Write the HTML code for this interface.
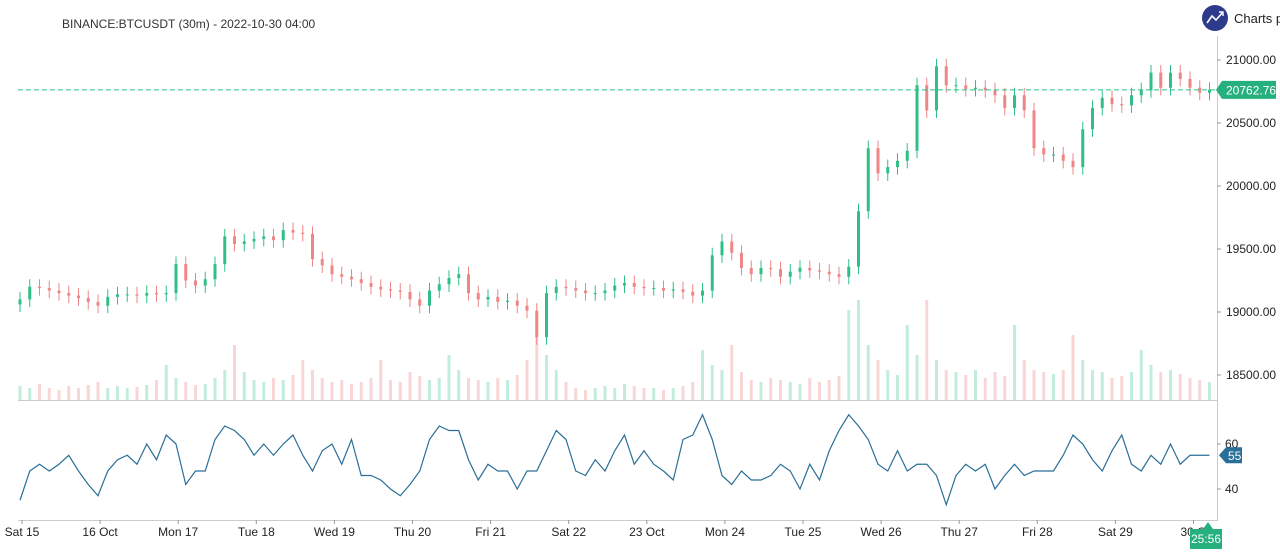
<!DOCTYPE html>
<html><head><meta charset="utf-8"><style>
body{margin:0;background:#fff;font-family:"Liberation Sans",sans-serif}
svg{display:block}
text{font-family:"Liberation Sans",sans-serif}
</style></head><body>
<svg id="chart" width="1280" height="552" xmlns="http://www.w3.org/2000/svg">
<text x="62" y="28" font-size="12" fill="#333">BINANCE:BTCUSDT (30m) - 2022-10-30 04:00</text>
<g>
<circle cx="1215" cy="18" r="13" fill="#2e3a8c"/>
<polyline points="1207,23 1212,16 1216,20 1223,12" fill="none" stroke="#fff" stroke-width="1.6"/>
<polyline points="1219,12 1223,12 1223,16" fill="none" stroke="#fff" stroke-width="1.4"/>
<text x="1234" y="23" font-size="13" fill="#222">Charts p</text>
</g>
<line x1="1217.5" y1="36" x2="1217.5" y2="521" stroke="#ccc"/>
<line x1="18" y1="400.5" x2="1217" y2="400.5" stroke="#ccc"/>
<line x1="18" y1="520.5" x2="1217" y2="520.5" stroke="#ccc"/>
<g id="vol"></g>
<g id="candles"></g>
<g id="yaxis"></g>
<g id="osc"></g>
<g id="xaxis"></g>
</svg>
<script>
const closes=[19100,19200,19190,19170,19150,19130,19110,19080,19050,19120,19140,19140,19130,19150,19140,19150,19380,19250,19210,19260,19380,19600,19540,19560,19580,19600,19570,19650,19630,19620,19420,19370,19300,19280,19260,19230,19200,19180,19170,19160,19100,19050,19170,19220,19270,19300,19150,19100,19120,19080,19090,19050,19010,18800,19150,19200,19190,19170,19150,19150,19170,19210,19230,19200,19190,19190,19170,19180,19160,19130,19170,19450,19560,19470,19350,19300,19350,19340,19280,19320,19350,19330,19320,19300,19280,19360,19800,20300,20100,20150,20200,20280,20800,20600,20950,20800,20800,20770,20780,20760,20720,20620,20720,20600,20300,20250,20250,20200,20150,20450,20620,20700,20650,20640,20720,20760,20900,20780,20900,20850,20780,20740,20763];
const volumes=[14,12,16,12,10,14,12,15,18,12,14,12,13,15,20,35,22,18,15,16,22,30,55,28,20,18,22,20,25,40,30,22,18,20,16,18,22,40,20,18,28,24,20,22,45,30,22,20,18,22,20,25,40,65,45,30,18,12,10,12,14,12,16,14,12,12,10,12,14,18,50,35,30,55,28,20,18,22,20,18,16,22,18,20,24,90,100,55,40,30,25,75,45,100,40,30,28,25,30,22,28,24,75,40,30,28,26,30,65,40,30,28,22,24,28,50,35,28,30,26,22,20,18];
const oscValues=[35,48,51,48,51,55,48,42,37,48,53,55,51,60,53,64,60,42,48,48,62,68,66,62,55,60,55,60,64,55,48,57,60,51,62,46,46,44,40,37,42,48,62,68,66,66,53,44,51,48,48,40,48,48,57,66,62,48,46,53,48,57,64,51,57,51,48,44,62,64,73,62,46,42,48,44,44,46,51,48,40,51,44,57,66,73,68,62,51,48,57,48,51,51,46,33,46,51,48,51,40,46,51,46,48,48,48,55,64,60,53,48,57,64,51,48,55,51,60,51,55,55,55];
const priceTicks=[18500,19000,19500,20000,20500,21000];
const oscTicks=[40,60];
const dayLabels=["Sat 15","16 Oct","Mon 17","Tue 18","Wed 19","Thu 20","Fri 21","Sat 22","23 Oct","Mon 24","Tue 25","Wed 26","Thu 27","Fri 28","Sat 29","30 O"];
const lastPrice=20762.76, lastOsc=55;

const NS="http://www.w3.org/2000/svg";
function mk(tag,attrs,parent){const e=document.createElementNS(NS,tag);for(const k in attrs)e.setAttribute(k,attrs[k]);parent.appendChild(e);return e;}
const xOf=i=>20+i*9.75;
const yP=p=>60+(21000-p)*63/500;
const yO=v=>444+(60-v)*45/20;
const yV=v=>400-v;
const dayX=d=>22+d*78.1;

const cg=document.getElementById('candles'), vg=document.getElementById('vol');
closes.forEach((c,i)=>{
  const o=i?closes[i-1]:c-40;
  const up=c>=o;
  const col=up?'#2fbf87':'#ef8585';
  const x=xOf(i);
  const hi=Math.max(o,c)+60, lo=Math.min(o,c)-60;
  const w=mk('line',{x1:x,x2:x,y1:yP(hi),y2:yP(lo),stroke:col,'stroke-width':1},cg);
  
  
  const top=yP(Math.max(o,c)), h=Math.max(1,yP(Math.min(o,c))-top);
  const b=mk('rect',{x:x-1.5,y:top,width:3,height:h,fill:col},cg);
  
  
  const v=mk('rect',{x:x-1.5,y:yV(volumes[i]),width:3,height:volumes[i],fill:up?'#a8e6cc':'#f7c4c4','fill-opacity':0.7},vg);
  
  
});
const yg=document.getElementById('yaxis');
priceTicks.forEach(p=>{
  mk('line',{x1:1217,x2:1221,y1:yP(p),y2:yP(p),stroke:'#999'},yg);
  const t=mk('text',{x:1226,y:yP(p)+4,'font-size':12,fill:'#222'},yg);t.textContent=p.toFixed(2);
  
  
});
const ly=yP(lastPrice);
const dl=mk('line',{x1:18,x2:1217,y1:ly,y2:ly,stroke:'#2fbf87','stroke-dasharray':'5,3','stroke-width':1},yg);


mk('path',{d:`M1216 ${ly} L1222 ${ly-9} L1276 ${ly-9} L1276 ${ly+9} L1222 ${ly+9} Z`,fill:'#26b07e'},yg);
const lt=mk('text',{x:1226,y:ly+4.5,'font-size':12,fill:'#fff'},yg);lt.textContent=lastPrice.toFixed(2);



const og=document.getElementById('osc');
const pts=oscValues.map((v,i)=>xOf(i)+','+yO(v)).join(' ');
const ol=mk('polyline',{points:pts,fill:'none',stroke:'#2a6f97','stroke-width':1.2},og);


oscTicks.forEach(v=>{
  mk('line',{x1:1217,x2:1221,y1:yO(v),y2:yO(v),stroke:'#999'},og);
  const t=mk('text',{x:1225,y:yO(v)+4,'font-size':12,fill:'#222'},og);t.textContent=v;
  
  
});
const oy=yO(lastOsc);
mk('path',{d:`M1219 ${oy} L1226 ${oy-8} L1242 ${oy-8} L1242 ${oy+8} L1226 ${oy+8} Z`,fill:'#2a6f97'},og);
const otx=mk('text',{x:1228,y:oy+4.5,'font-size':12,fill:'#fff'},og);otx.textContent=lastOsc;



const xg=document.getElementById('xaxis');
dayLabels.forEach((d,i)=>{
  mk('line',{x1:dayX(i),x2:dayX(i),y1:520,y2:524,stroke:'#999'},xg);
  const t=mk('text',{x:dayX(i),y:536,'font-size':12,fill:'#222','text-anchor':'middle'},xg);t.textContent=d;
  
  
});
mk('path',{d:'M1190 529 L1203 529 L1208 522 L1213 529 L1222 529 L1222 549 L1190 549 Z',fill:'#26b07e'},xg);
const tt=mk('text',{x:1206,y:543,'font-size':12,fill:'#fff','text-anchor':'middle'},xg);tt.textContent='25:56';


</script>
</body></html>
